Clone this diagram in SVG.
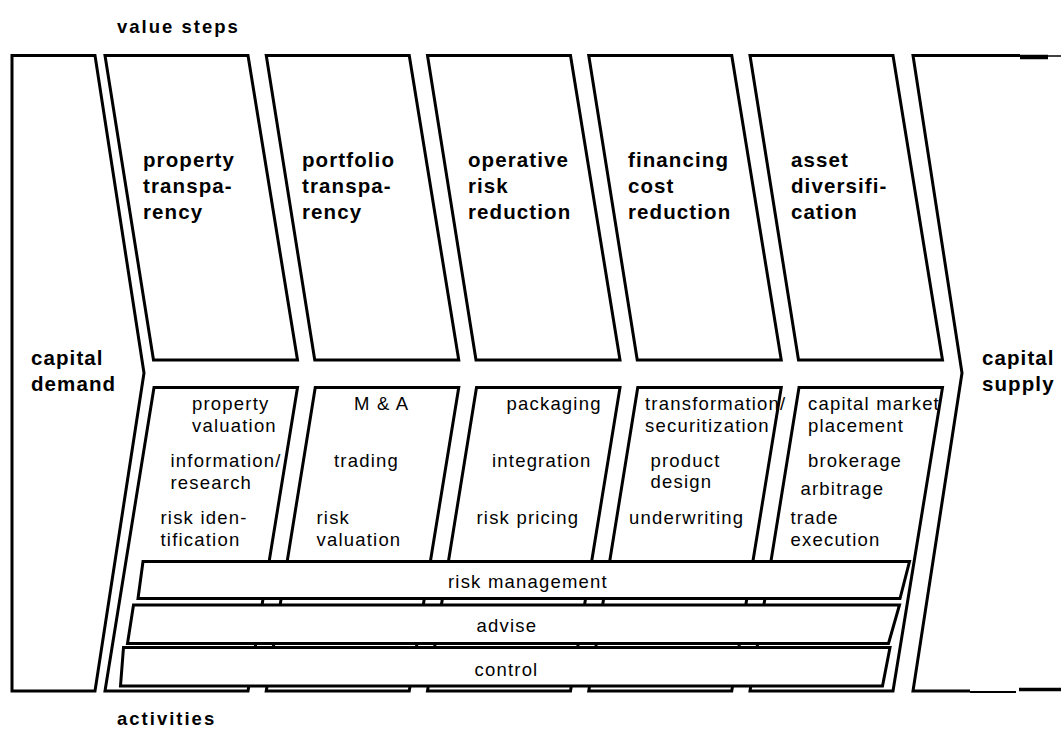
<svg xmlns="http://www.w3.org/2000/svg" width="1061" height="729" viewBox="0 0 1061 729">
<style>
.s{fill:#fff;stroke:#000;stroke-width:3;stroke-linejoin:miter}
.o{fill:none;stroke:#000;stroke-width:3}
.h{font-family:"Liberation Sans",Arial,sans-serif;font-weight:bold;font-size:20.5px;letter-spacing:1.1px;fill:#000}
.l{font-family:"Liberation Sans",Arial,sans-serif;font-weight:bold;font-size:18.5px;letter-spacing:2px;fill:#000}
.t{font-family:"Liberation Sans",Arial,sans-serif;font-size:18.5px;letter-spacing:1.2px;fill:#000}
</style>
<rect width="1061" height="729" fill="#fff"/>
<text class="l" x="117" y="33">value steps</text>
<text class="l" x="117" y="725">activities</text>

<g id="capital-demand">
<path class="s" d="M12,55.5 L95,55.5 L144,373 L95,691 L12,691 Z"/>
<text class="h" x="31" y="365">capital<tspan x="31" y="391">demand</tspan></text>
</g>

<g id="capital-supply">
<path class="o" d="M1020,55.5 L913,55.5 L962,373 L913,691 L970,691"/>
<path d="M1020,57 L1048,57" stroke="#000" stroke-width="4.5" fill="none"/>
<path d="M1048,56 L1061,56" stroke="#000" stroke-width="1.5" fill="none"/>
<path d="M970,692 L1016,692" stroke="#000" stroke-width="2" fill="none"/>
<path d="M1019,689.5 L1061,689.5" stroke="#000" stroke-width="3.5" fill="none"/>
<text class="h" x="982" y="365">capital<tspan x="982" y="391">supply</tspan></text>
</g>

<g id="step-property-transparency">
<path class="s" d="M105,55.5 L248,55.5 L297.5,360 L153.5,360 Z"/>
<text class="h" x="143" y="167">property<tspan x="143" y="193">transpa-</tspan><tspan x="143" y="219">rency</tspan></text>
</g>
<g id="step-portfolio-transparency">
<path class="s" d="M266.25,55.5 L409.25,55.5 L458.75,360 L314.75,360 Z"/>
<text class="h" x="302" y="167">portfolio<tspan x="302" y="193">transpa-</tspan><tspan x="302" y="219">rency</tspan></text>
</g>
<g id="step-operative-risk-reduction">
<path class="s" d="M427.5,55.5 L570.5,55.5 L620,360 L476,360 Z"/>
<text class="h" x="468" y="167">operative<tspan x="468" y="193">risk</tspan><tspan x="468" y="219">reduction</tspan></text>
</g>
<g id="step-financing-cost-reduction">
<path class="s" d="M588.75,55.5 L731.75,55.5 L781.25,360 L637.25,360 Z"/>
<text class="h" x="628" y="167">financing<tspan x="628" y="193">cost</tspan><tspan x="628" y="219">reduction</tspan></text>
</g>
<g id="step-asset-diversification">
<path class="s" d="M750,55.5 L893,55.5 L942.5,360 L798.5,360 Z"/>
<text class="h" x="791" y="167">asset<tspan x="791" y="193">diversifi-</tspan><tspan x="791" y="219">cation</tspan></text>
</g>

<g id="activities-property">
<path class="s" d="M154,387.5 L297.5,387.5 L248,691 L105,691 Z"/>
<text class="t" x="192" y="410">property<tspan x="192" y="432">valuation</tspan></text>
<text class="t" x="170.5" y="467">information/<tspan x="170.5" y="489">research</tspan></text>
<text class="t" x="160.5" y="524">risk iden-<tspan x="160.5" y="546">tification</tspan></text>
</g>
<g id="activities-portfolio">
<path class="s" d="M315.25,387.5 L458.75,387.5 L409.25,691 L266.25,691 Z"/>
<text class="t" x="354" y="410">M &amp; A</text>
<text class="t" x="334" y="467">trading</text>
<text class="t" x="316.5" y="524">risk<tspan x="316.5" y="546">valuation</tspan></text>
</g>
<g id="activities-operative">
<path class="s" d="M476.5,387.5 L620,387.5 L570.5,691 L427.5,691 Z"/>
<text class="t" x="506.5" y="410">packaging</text>
<text class="t" x="492" y="467">integration</text>
<text class="t" x="476.5" y="524">risk pricing</text>
</g>
<g id="activities-financing">
<path class="s" d="M637.75,387.5 L781.25,387.5 L731.75,691 L588.75,691 Z"/>
<text class="t" x="645" y="410">transformation/<tspan x="645" y="432">securitization</tspan></text>
<text class="t" x="650.5" y="467">product<tspan x="650.5" y="488">design</tspan></text>
<text class="t" x="629" y="524">underwriting</text>
</g>
<g id="activities-asset">
<path class="s" d="M799,387.5 L942.5,387.5 L893,691 L750,691 Z"/>
<text class="t" x="808" y="410">capital market<tspan x="808" y="432">placement</tspan></text>
<text class="t" x="808" y="467">brokerage</text>
<text class="t" x="800.5" y="495">arbitrage</text>
<text class="t" x="790.5" y="524">trade<tspan x="790.5" y="546">execution</tspan></text>
</g>

<g id="bar-risk-management">
<path class="s" d="M143,561.5 L909.5,561.5 L900,598.5 L138,598.5 Z"/>
<text class="t" x="448" y="588">risk management</text>
</g>
<g id="bar-advise">
<path class="s" d="M133.5,605 L899.5,605 L888.5,643.5 L127.5,643.5 Z"/>
<text class="t" x="476.5" y="631.5">advise</text>
</g>
<g id="bar-control">
<path class="s" d="M123.5,647.5 L890,647.5 L882.5,686 L120.5,686 Z"/>
<text class="t" x="474.5" y="676">control</text>
</g>

<g id="connectors"></g>
</svg>
